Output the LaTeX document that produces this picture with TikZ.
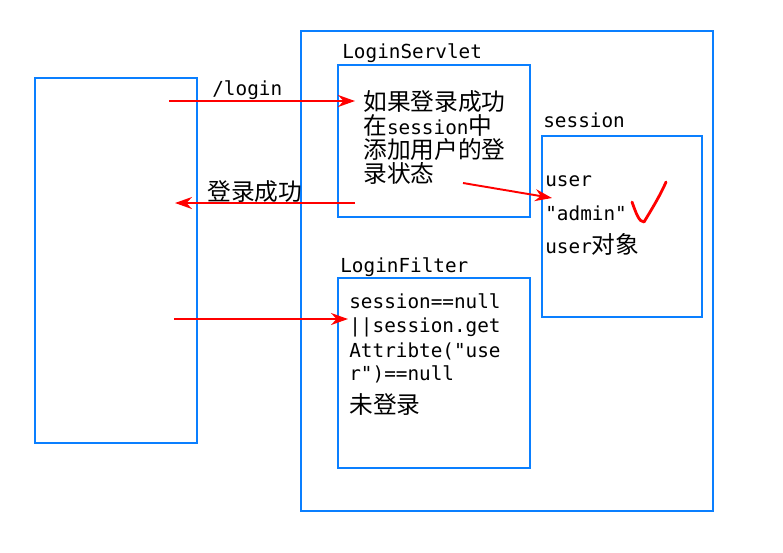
\documentclass[tikz,border=0pt]{standalone}
\usepackage{fontspec}
\setmonofont{DejaVu Sans Mono}
\newfontfamily\cjk{Noto Sans CJK SC}
\usetikzlibrary{arrows.meta}
\definecolor{boxblue}{RGB}{10,127,255}
\tikzset{>={Stealth[length=3.4mm,width=2.4mm]}}
\tikzset{
  box/.style={draw=boxblue,line width=1.6pt},
  flow/.style={->,red,line width=1.1pt},
  code/.style={anchor=base west,inner sep=0pt,font=\ttfamily\fontsize{11}{13}\selectfont},
}
\newcommand{\zh}[1]{{\cjk\fontsize{13.5}{13}\selectfont #1}}

\begin{document}
\begin{tikzpicture}[x=0.02cm,y=-0.02cm]
      \useasboundingbox (0,0) rectangle (783,552);
      % boxes
      \draw[box] (35,78) rectangle (197,443);
      \draw[box] (301,31) rectangle (713,511);
      \draw[box] (338,65) rectangle (530,217);
      \draw[box] (542,136) rectangle (702,317);
      \draw[box] (338,278) rectangle (530,468);
      % titles
      \node[code] at (342,58)  (servlet) {LoginServlet};
      \node[code] at (543,127) (session) {session};
      \node[code] at (340,272) (filter)  {LoginFilter};
      % servlet text
      \node[code] at (363,110) (s1) {\zh{如果登录成功}};
      \node[code] at (363,134) (s2) {\zh{在}session\zh{中}};
      \node[code] at (363,158) (s3) {\zh{添加用户的登}};
      \node[code] at (363,182) (s4) {\zh{录状态}};
      % session text
      \node[code] at (545,186) (u1) {user};
      \node[code] at (545,220) (u2) {"admin"};
      \node[code] at (545,253) (u3) {user\zh{对象}};
      % filter text
      \node[code] at (349,308) (f1) {session==null};
      \node[code] at (349,332) (f2) {||session.get};
      \node[code] at (349,357) (f3) {Attribte("use};
      \node[code] at (349,380) (f4) {r")==null};
      \node[code] at (349,413) (f5) {\zh{未登录}};
      % arrows
      \coordinate (reqA) at (169,101);
      \coordinate (reqB) at (355,101);
      \coordinate (resA) at (355,203);
      \coordinate (resB) at (175,203);
      \coordinate (chkA) at (174,319);
      \coordinate (chkB) at (348,319);
      \coordinate (setA) at (463,183);
      \coordinate (setB) at (552,198);
      \draw[flow] (reqA)--(reqB);
      \draw[flow] (resA)--(resB);
      \draw[flow] (chkA)--(chkB);
      \draw[flow] (setA)--(setB);
      \node[code] at (212,95)  (login) {/login};
      \node[code] at (207,200) (ok)    {\zh{登录成功}};
      % tick
      \draw[red,line width=1.6pt,line cap=round,line join=round]
        (632,202) .. controls (636,213) and (639,222) .. (644,222)
        .. controls (650,212) and (660,196) .. (666,182);
\end{tikzpicture}
\end{document}
